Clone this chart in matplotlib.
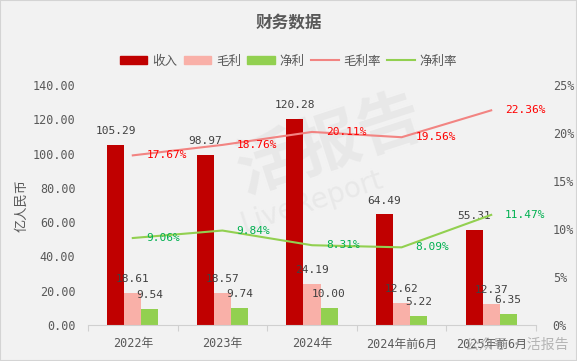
import numpy as np
import matplotlib
matplotlib.use('Agg')
import matplotlib.pyplot as plt
from matplotlib.patches import Patch, Rectangle
from matplotlib.lines import Line2D

# data
categories = ['2022年', '2023年', '2024年', '2024年前6月', '2025年前6月']
revenue = [105.29, 98.97, 120.28, 64.49, 55.31]
gross = [18.61, 18.57, 24.19, 12.62, 12.37]
net = [9.54, 9.74, 10.00, 5.22, 6.35]
gross_margin = [17.67, 18.76, 20.11, 19.56, 22.36]
net_margin = [9.06, 9.84, 8.31, 8.09, 11.47]
left_ticks = [0, 20, 40, 60, 80, 100, 120, 140]
right_ticks = [0, 5, 10, 15, 20, 25]

# style
bg = '#F2F2F2'
txt = '#595959'
c_rev, c_gross, c_net = '#C00000', '#F9B0A8', '#92D050'
c_gm_line, c_nm_line = '#F28482', '#92D050'
c_gm_lab, c_nm_lab = '#FF0000', '#00B050'
mono = ['DejaVu Sans Mono', 'Noto Sans CJK SC']
cjk = ['Noto Sans CJK SC', 'DejaVu Sans']

plt.rcParams['font.family'] = mono

fig = plt.figure(figsize=(5.77, 3.61), dpi=100, facecolor=bg)
ax = fig.add_axes([88 / 577, 1 - 325 / 361, (536 - 88) / 577, 240 / 361])
ax.set_facecolor(bg)
ax2 = ax.twinx()

x = np.arange(len(categories))
w = 0.19

# faint watermark
ax.text(2.2, 105, '活报告', fontsize=46, family=cjk, fontweight='bold', color='#DCDCDC',
        rotation=18, ha='center', va='center', alpha=0.45, zorder=0)
ax.text(2.0, 72, 'LiveReport', fontsize=20, family=['DejaVu Sans'], color='#DCDCDC',
        rotation=18, ha='center', va='center', alpha=0.45, zorder=0)

bars = [(revenue, -w, c_rev), (gross, 0, c_gross), (net, w, c_net)]
for vals, off, col in bars:
    ax.bar(x + off, vals, width=w, color=col, zorder=2)
    for xi, v in zip(x + off, vals):
        ax.annotate(f'{v:.2f}', (xi, v), xytext=(0, 10), textcoords='offset points',
                    ha='center', va='center', fontsize=8, color='#404040', zorder=5)

ax2.plot(x, gross_margin, color=c_gm_line, lw=1.5, zorder=3, clip_on=False)
ax2.plot(x, net_margin, color=c_nm_line, lw=1.5, zorder=3, clip_on=False)
for vals, col in [(gross_margin, c_gm_lab), (net_margin, c_nm_lab)]:
    for xi, v in zip(x, vals):
        ax2.annotate(f'{v:.2f}%', (xi, v), xytext=(10, 0), textcoords='offset points',
                     ha='left', va='center', fontsize=8, color=col, zorder=5)

ax.set_xlim(-0.5, len(categories) - 0.5)
ax.set_ylim(0, 140)
ax2.set_ylim(0, 25)

ax.set_yticks(left_ticks)
ax.set_yticklabels([f'{t:.2f}' for t in left_ticks])
ax2.set_yticks(right_ticks)
ax2.set_yticklabels([f'{t}%' for t in right_ticks])

ax.set_xticks(x)
ax.set_xticklabels(categories, family=mono)
ax.set_xticks(np.arange(len(categories) + 1) - 0.5, minor=True)
ax.tick_params(axis='x', which='major', length=0, pad=9, labelsize=8.5, labelcolor=txt)
ax.tick_params(axis='x', which='minor', length=4, color='#D0D0D0', width=0.8)
ax.tick_params(axis='y', length=0, pad=9, labelsize=8.5, labelcolor=txt)
ax2.tick_params(axis='y', length=0, pad=12, labelsize=8.5, labelcolor=txt)

for a in (ax, ax2):
    for s in ['top', 'left', 'right']:
        a.spines[s].set_visible(False)
ax2.spines['bottom'].set_visible(False)
ax.spines['bottom'].set_color('#D0D0D0')
ax.spines['bottom'].set_linewidth(0.8)

ax.set_ylabel('亿人民币', family=cjk, fontsize=9.5, color=txt, labelpad=3)

fig.text(0.5, 1 - 22 / 361, '财务数据', family=cjk, fontweight='bold', fontsize=12,
         color=txt, ha='center', va='center')

handles = [Patch(color=c_rev), Patch(color=c_gross), Patch(color=c_net),
           Line2D([], [], color=c_gm_line, lw=1.5), Line2D([], [], color=c_nm_line, lw=1.5)]
labels = ['收入', '毛利', '净利', '毛利率', '净利率']
leg = fig.legend(handles, labels, loc='center', bbox_to_anchor=(0.5, 1 - 61 / 361),
                 ncol=5, frameon=False, prop={'family': cjk, 'size': 9},
                 handlelength=2.2, handleheight=0.6, handletextpad=0.4, columnspacing=0.5)
for t in leg.get_texts():
    t.set_color(txt)

fig.text(0.985, 1 - 345 / 361, '公众号 · 活报告', family=cjk, fontsize=10, color='#9A9A9A',
         ha='right', va='center', alpha=0.7)

fig.patches.append(Rectangle((0, 0), 1, 1, transform=fig.transFigure, fill=False,
                             edgecolor='#D4D4D4', lw=1.5))

fig.savefig('out.png', dpi=100, facecolor=bg)
